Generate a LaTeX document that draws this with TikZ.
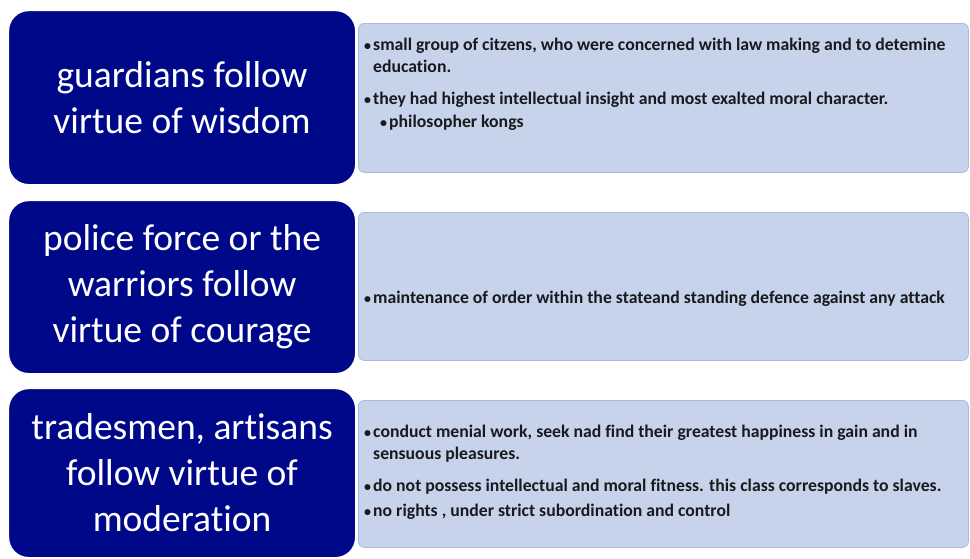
\documentclass[tikz,border=0pt]{standalone}
\usepackage{fontspec}
\setmainfont[Ligatures=NoCommon]{Carlito}
\definecolor{navy}{RGB}{0,8,138}
\definecolor{lightfill}{RGB}{198,211,235}
\definecolor{lightborder}{RGB}{168,186,222}
\definecolor{txt}{RGB}{25,25,30}
\newcommand{\bdot}{{\fontsize{14}{14}\selectfont\textbullet}}
\newcommand{\bitem}[2]{\begin{tabular}[t]{@{}p{9pt}@{}l@{}}\bdot&#1\\&#2\end{tabular}}
\newcommand{\sitem}[1]{\begin{tabular}[t]{@{}p{9pt}@{}l@{}}\bdot&#1\end{tabular}}
\begin{document}
\begin{tikzpicture}[x=1pt,y=-1pt,
  leftbox/.style={fill=navy, draw=white, line width=1.2pt, rounded corners=20pt, inner sep=0pt, anchor=north west},
  rightbox/.style={fill=lightfill, draw=lightborder, line width=0.8pt, rounded corners=6pt, inner sep=0pt, anchor=north west},
  lefttext/.style={text=white, align=center, font=\fontsize{37.5}{46}\selectfont, inner sep=0pt},
  righttext/.style={text=txt, anchor=base west, inner sep=0pt, font=\fontsize{17.7}{22}\selectfont\bfseries}]
\useasboundingbox (0,0) rectangle (970,558);
% right boxes
\node[rightbox, minimum width=610pt, minimum height=149pt] (r1) at (358,23) {};
\node[rightbox, minimum width=610pt, minimum height=148pt] (r2) at (358,212) {};
\node[rightbox, minimum width=610pt, minimum height=147pt] (r3) at (358,400) {};
% left boxes
\node[leftbox, minimum width=347pt, minimum height=174pt] (l1) at (8,10) {};
\node[leftbox, minimum width=347pt, minimum height=173pt] (l2) at (8,200) {};
\node[leftbox, minimum width=347pt, minimum height=169pt] (l3) at (8,388) {};
\node[lefttext] (t1) at (l1.center) {guardians follow\\virtue of wisdom};
\node[lefttext] (t2) at (l2.center) {police force or the\\warriors follow\\virtue of courage};
\node[lefttext] (t3) at (l3.center) {tradesmen, artisans\\follow virtue of\\moderation};
% right texts
\node[righttext] (a1) at (364,50) {\bitem{small group of citzens, who were concerned with law making and to detemine}{education.}};
\node[righttext] (a2) at (364,104) {\sitem{they had highest intellectual insight and most exalted moral character.}};
\node[righttext] (a3) at (380,127) {\sitem{philosopher kongs}};
\node[righttext] (b1) at (364,303) {\sitem{maintenance of order within the stateand standing defence against any attack}};
\node[righttext] (c1) at (364,437) {\bitem{conduct menial work, seek nad find their greatest happiness in gain and in}{sensuous pleasures.}};
\node[righttext] (c2) at (364,491) {\sitem{do not possess intellectual and moral fitness. this class corresponds to slaves.}};
\node[righttext] (c3) at (364,516) {\sitem{no rights , under strict subordination and control}};
\end{tikzpicture}
\end{document}
